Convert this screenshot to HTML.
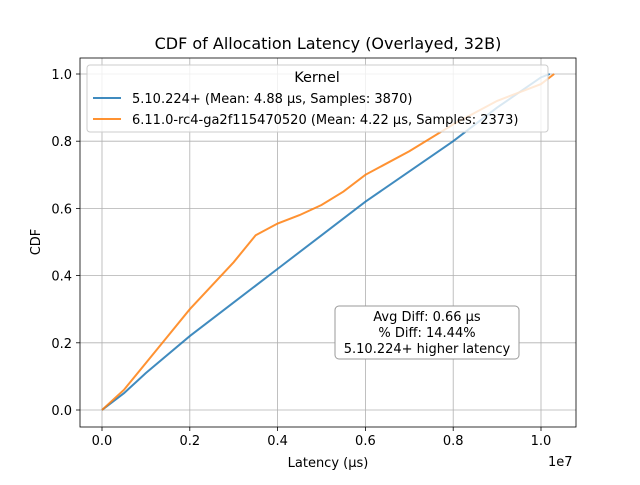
<!DOCTYPE html>
<html><head><meta charset="utf-8"><style>
body{margin:0;background:#fff}
svg text{font-family:"DejaVu Sans","Liberation Sans",sans-serif;fill:#000}
</style></head><body>
<svg id="c" width="640" height="480" xmlns="http://www.w3.org/2000/svg">
<rect width="640" height="480" fill="#fff"/>
<g id="grid"></g>
<g id="series"></g>
<rect x="80" y="58" width="496" height="369" fill="none" stroke="#000" stroke-width="0.8"/>
<g id="ticks"></g>
<text x="328" y="49" font-size="16" text-anchor="middle">CDF of Allocation Latency (Overlayed, 32B)</text>
<text x="328" y="467" font-size="13" text-anchor="middle">Latency (µs)</text>
<text x="548" y="466" font-size="13">1e7</text>
<text x="40" y="242" font-size="13" text-anchor="middle" transform="rotate(-90 40 242)">CDF</text>
<g>
<rect x="87" y="65" width="461" height="67" rx="3" fill="#fff" fill-opacity="0.8" stroke="#ccc"/>
<text x="317" y="82" font-size="14.5" text-anchor="middle">Kernel</text>
<line x1="93" y1="98" x2="121" y2="98" stroke="#1f77b4" stroke-width="2" opacity="0.85"/>
<text x="132" y="103" font-size="13">5.10.224+ (Mean: 4.88 µs, Samples: 3870)</text>
<line x1="93" y1="119" x2="121" y2="119" stroke="#ff7f0e" stroke-width="2" opacity="0.85"/>
<text x="132" y="124" font-size="13">6.11.0-rc4-ga2f115470520 (Mean: 4.22 µs, Samples: 2373)</text>
</g>
<g>
<rect x="335" y="306" width="184" height="53" rx="4" fill="#fff" stroke="#999"/>
<text x="427" y="321" font-size="13" text-anchor="middle">Avg Diff: 0.66 µs</text>
<text x="427" y="337" font-size="13" text-anchor="middle">% Diff: 14.44%</text>
<text x="427" y="353" font-size="13" text-anchor="middle">5.10.224+ higher latency</text>
</g>
</svg>
<script>
const xTicks=[0,0.2,0.4,0.6,0.8,1.0];
const yTicks=[0,0.2,0.4,0.6,0.8,1.0];
const blueX=[0,0.05,0.1,0.2,0.3,0.4,0.5,0.6,0.7,0.8,0.9,1.0,1.02];
const blueY=[0,0.05,0.11,0.22,0.32,0.42,0.52,0.62,0.71,0.80,0.90,0.99,1.0];
const orangeX=[0,0.05,0.1,0.15,0.2,0.25,0.3,0.35,0.4,0.45,0.5,0.55,0.6,0.7,0.8,0.9,1.0,1.03];
const orangeY=[0,0.06,0.14,0.22,0.30,0.37,0.44,0.52,0.555,0.58,0.61,0.65,0.70,0.77,0.85,0.92,0.97,1.0];
const X=v=>102+v*439, Y=v=>410-v*336;
const NS='http://www.w3.org/2000/svg';
const g=document.getElementById('grid'),t=document.getElementById('ticks'),s=document.getElementById('series');
function mk(tag,a,p){const e=document.createElementNS(NS,tag);for(const k in a)e.setAttribute(k,a[k]);p.appendChild(e);return e;}
xTicks.forEach(v=>{
 const l=mk('line',{x1:X(v),x2:X(v),y1:58,y2:427,stroke:'#b0b0b0','stroke-width':0.8},g);
 
 
 mk('line',{x1:X(v),x2:X(v),y1:427,y2:431,stroke:'#000','stroke-width':0.8},t);
 const tx=mk('text',{x:X(v),y:445,'font-size':13,'text-anchor':'middle'},t);tx.textContent=v.toFixed(1);
 
 
});
yTicks.forEach(v=>{
 const l=mk('line',{x1:80,x2:576,y1:Y(v),y2:Y(v),stroke:'#b0b0b0','stroke-width':0.8},g);
 
 
 mk('line',{x1:76,x2:80,y1:Y(v),y2:Y(v),stroke:'#000','stroke-width':0.8},t);
 const tx=mk('text',{x:72,y:Y(v)+5,'font-size':13,'text-anchor':'end'},t);tx.textContent=v.toFixed(1);
 
 
});
function line(xs,ys,c,n){
 const p=mk('polyline',{points:xs.map((x,i)=>X(x)+','+Y(ys[i])).join(' '),fill:'none',stroke:c,'stroke-width':2,opacity:0.85},s);
 
 
}
line(blueX,blueY,'#1f77b4','series-5.10');
line(orangeX,orangeY,'#ff7f0e','series-6.11');
</script>
</body></html>
